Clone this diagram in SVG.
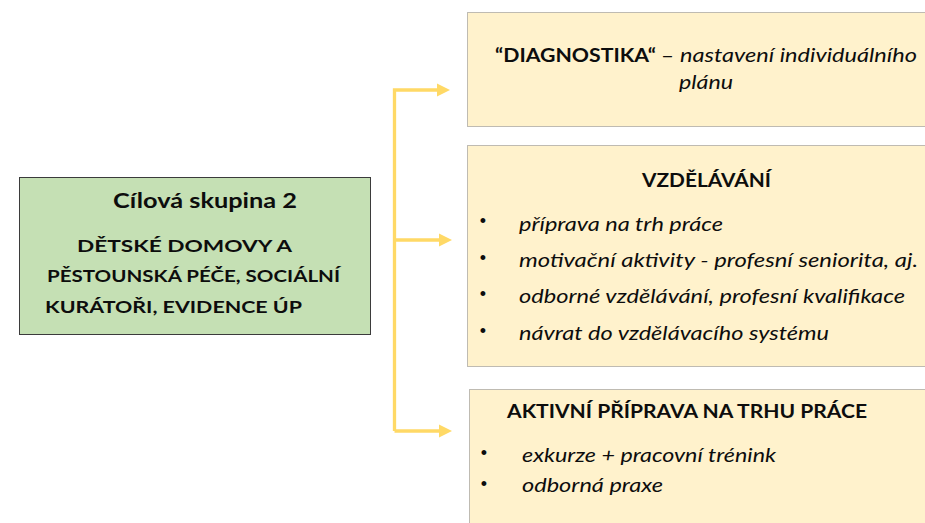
<svg xmlns="http://www.w3.org/2000/svg" width="925" height="523" viewBox="0 0 925 523">
<defs>
<marker id="ah" markerWidth="4" markerHeight="4" refX="0" refY="2" orient="auto" markerUnits="strokeWidth">
<path d="M0,0 L4,2 L0,4 z" fill="#ffd966"/>
</marker>
<style>
.t{font-family:Lato,"Liberation Sans",sans-serif;fill:#0d0d0d;}
.b{font-weight:bold;}
.i{font-style:italic;}
.box{fill:#fff2cc;stroke:#7f7f7f;stroke-width:1;stroke-dasharray:1 1;}
.green{fill:#c5e0b4;stroke:#3b3b3b;stroke-width:1;}
.con{fill:none;stroke:#ffd966;stroke-width:3.3;}
.bul{font-family:"Liberation Sans",sans-serif;font-size:18px;fill:#0d0d0d;}
</style>
</defs>
<rect width="925" height="523" fill="#fff"/>
<g id="connectors">
<path class="con" d="M394.5,431 V90 H437" marker-end="url(#ah)"/>
<path class="con" d="M394.5,240 H439" marker-end="url(#ah)"/>
<path class="con" d="M394.5,431 H439" marker-end="url(#ah)"/>
</g>
<g id="target-group">
<rect class="green" x="19.5" y="177.5" width="351" height="157"/>
<text class="t b" x="113" y="208" font-size="21" textLength="184" lengthAdjust="spacingAndGlyphs">Cílová skupina 2</text>
<text class="t b" x="77" y="251.5" font-size="17" textLength="215" lengthAdjust="spacingAndGlyphs">DĚTSKÉ DOMOVY A</text>
<text class="t b" x="47" y="282" font-size="17" textLength="293" lengthAdjust="spacingAndGlyphs">PĚSTOUNSKÁ PÉČE, SOCIÁLNÍ</text>
<text class="t b" x="45" y="312.5" font-size="17" textLength="257" lengthAdjust="spacingAndGlyphs">KURÁTOŘI, EVIDENCE ÚP</text>
</g>
<g id="diagnostika">
<rect class="box" x="467.5" y="12.5" width="470" height="114"/>
<text class="t b" x="495" y="62" font-size="19" textLength="161" lengthAdjust="spacingAndGlyphs">“DIAGNOSTIKA“</text>
<text class="t" x="661" y="62" font-size="19" textLength="13" lengthAdjust="spacingAndGlyphs">–</text>
<text class="t i" x="680" y="62" font-size="19" textLength="237" lengthAdjust="spacingAndGlyphs">nastavení individuálního</text>
<text class="t i" x="679" y="89" font-size="19" textLength="54" lengthAdjust="spacingAndGlyphs">plánu</text>
</g>
<g id="vzdelavani">
<rect class="box" x="467.5" y="145.5" width="470" height="221"/>
<text class="t b" x="642" y="187" font-size="19" textLength="129" lengthAdjust="spacingAndGlyphs">VZDĚLÁVÁNÍ</text>
<text class="bul" x="483" y="227" text-anchor="middle">•</text>
<text class="t i" x="519" y="230.5" font-size="19" textLength="204" lengthAdjust="spacingAndGlyphs">příprava na trh práce</text>
<text class="bul" x="483" y="263.5" text-anchor="middle">•</text>
<text class="t i" x="519" y="266.5" font-size="19" textLength="399" lengthAdjust="spacingAndGlyphs">motivační aktivity - profesní seniorita, aj.</text>
<text class="bul" x="483" y="300" text-anchor="middle">•</text>
<text class="t i" x="519" y="303" font-size="19" textLength="386" lengthAdjust="spacingAndGlyphs">odborné vzdělávání, profesní kvalifikace</text>
<text class="bul" x="483" y="336.5" text-anchor="middle">•</text>
<text class="t i" x="519" y="339.5" font-size="19" textLength="310" lengthAdjust="spacingAndGlyphs">návrat do vzdělávacího systému</text>
</g>
<g id="aktivni-priprava">
<rect class="box" x="469.5" y="389.5" width="470" height="150"/>
<text class="t b" x="507" y="418" font-size="19" textLength="360" lengthAdjust="spacingAndGlyphs">AKTIVNÍ PŘÍPRAVA NA TRHU PRÁCE</text>
<text class="bul" x="484" y="459" text-anchor="middle">•</text>
<text class="t i" x="522" y="462" font-size="19" textLength="254" lengthAdjust="spacingAndGlyphs">exkurze + pracovní trénink</text>
<text class="bul" x="484" y="490" text-anchor="middle">•</text>
<text class="t i" x="522" y="492" font-size="19" textLength="141" lengthAdjust="spacingAndGlyphs">odborná praxe</text>
</g>
</svg>
